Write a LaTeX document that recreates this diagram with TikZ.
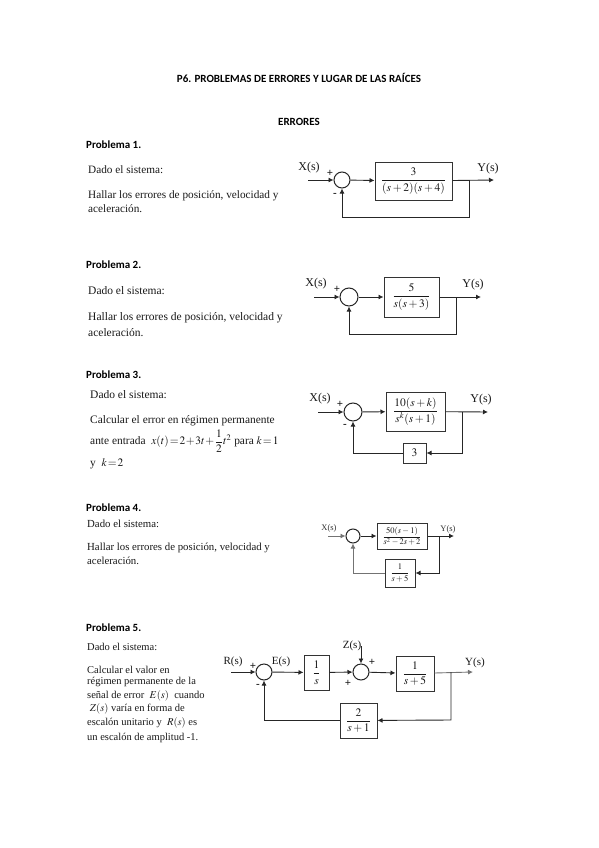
\documentclass[tikz,border=0pt]{standalone}
\usepackage{amsmath}
\usepackage{mathptmx}
\usepackage[no-math]{fontspec}
\setmainfont{Liberation Serif}
\newfontfamily\headfont{Carlito}
\usetikzlibrary{arrows.meta}
\tikzset{
  x=1pt,y=-1pt,
  head/.style={font=\headfont\bfseries\fontsize{11}{12}\selectfont,inner sep=0pt},
  prob/.style={font=\headfont\bfseries\fontsize{11}{12}\selectfont,anchor=west,inner sep=0pt},
  body/.style={font=\fontsize{11.25}{12}\selectfont,anchor=west,inner sep=0pt,text=black!90},
  bodyb/.style={font=\fontsize{11.5}{12}\selectfont,anchor=west,inner sep=0pt,text=black!90},
  bodyc/.style={font=\fontsize{11.4}{12}\selectfont,anchor=west,inner sep=0pt,text=black!90},
  bodyd/.style={font=\fontsize{10.8}{12}\selectfont,anchor=west,inner sep=0pt,text=black!90},
  bodys/.style={font=\fontsize{10.5}{12}\selectfont,anchor=west,inner sep=0pt,text=black!90},
  sig/.style={font=\fontsize{12}{13}\selectfont,inner sep=0pt,text=black!90},
  sigm/.style={font=\fontsize{11}{12}\selectfont,inner sep=0pt,text=black!90},
  sigs/.style={font=\fontsize{8.5}{9}\selectfont,inner sep=0pt,text=black!80},
  sgn/.style={font=\bfseries\fontsize{11}{11}\selectfont,inner sep=0pt,text=black!90},
  sumc/.style={draw=black!85,circle,line width=1pt,inner sep=0pt,minimum size=#1},
  tbox/.style={draw=black!80,line width=1pt,inner sep=0pt,text=black!90,font=\fontsize{11.5}{13}\selectfont},
  tboxs/.style={tbox,font=\fontsize{8.5}{10}\selectfont},
  wire/.style={draw=black!85,line width=0.9pt},
  arr/.style={wire,-{Latex[length=5pt,width=5pt]}},
}
\newcommand{\boxat}[6]{\node[#6,minimum width=#3-#1,minimum height=#4-#2] (#5) at ({(#1+#3)/2},{(#2+#4)/2})}
\begin{document}
\begin{tikzpicture}
\useasboundingbox (0,0) rectangle (599,848);
\fill[white] (0,0) rectangle (599,848);

\node[head] (title) at (299,78) {P6. PROBLEMAS DE ERRORES Y LUGAR DE LAS RAÍCES};
\node[head] (errores) at (299,122) {ERRORES};
\node[prob] (p1) at (86,145) {Problema 1.};
\node[prob] (p2) at (86,265) {Problema 2.};
\node[prob] (p3) at (86,375) {Problema 3.};
\node[prob] (p4) at (86,508) {Problema 4.};
\node[prob] (p5) at (86,628) {Problema 5.};

% Text P1
\node[body] (t1a) at (88,170) {Dado el sistema:};
\node[body] (t1b) at (88,196) {Hallar los errores de posición, velocidad y};
\node[body] (t1c) at (88,209) {aceleración.};
% Text P2
\node[bodyb] (t2a) at (88,291) {Dado el sistema:};
\node[bodyb] (t2b) at (88,318) {Hallar los errores de posición, velocidad y};
\node[bodyb] (t2c) at (88,333) {aceleración.};
% Text P3
\node[bodyb] (t3a) at (90,395) {Dado el sistema:};
\node[bodyc] (t3b) at (90,421) {Calcular el error en régimen permanente};
\node[bodyc] (t3c) at (90,441) {\thickmuskip=1.5mu\medmuskip=1mu ante entrada\ \ $x(t)=2+3t+\dfrac{1}{2}t^{2}$\ para\ $k=1$};
\node[bodyc] (t3d) at (90,464) {\thickmuskip=1.5mu y\ \ $k=2$};
% Text P4
\node[bodyd] (t4a) at (87,524) {Dado el sistema:};
\node[bodyd] (t4b) at (87,548) {Hallar los errores de posición, velocidad y};
\node[bodyd] (t4c) at (87,561) {aceleración.};
% Text P5
\node[bodys] (t5a) at (87,647) {Dado el sistema:};
\node[bodys] (t5b) at (87,670) {Calcular el valor en};
\node[bodys] (t5c) at (87,682) {régimen permanente de la};
\node[bodys] (t5d) at (87,696) {señal de error \ $E(s)$ \ cuando};
\node[bodys] (t5e) at (87,709) {\ $Z(s)$ varía en forma de};
\node[bodys] (t5f) at (87,723) {escalón unitario y \ $R(s)$ es};
\node[bodys] (t5g) at (87,738) {un escalón de amplitud -1.};

% Diagram 1
\node[sig] (x1) at (309,168) {X(s)};
\node[sig] (y1) at (488,169) {Y(s)};
\node[sgn] (s1p) at (330,173) {+};
\node[sgn] (s1m) at (335,195) {-};
\node[sumc=16pt] (c1) at (342,180) {};
\boxat{375}{162}{452}{200}{g1}{tbox}{$\dfrac{3}{(s+2)(s+4)}$};
\coordinate (i1) at (308,180);
\coordinate (o1) at (494,180);
\coordinate (b1) at (469,180);
\coordinate (f1) at (469,217);
\draw[arr] (i1) -- (c1);
\draw[arr] (c1) -- (g1);
\draw[arr] (g1) -- (o1);
\draw[arr] (b1) -- (f1) -| (c1);

% Diagram 2
\node[sig] (x2) at (316,284) {X(s)};
\node[sig] (y2) at (473,285) {Y(s)};
\node[sgn] (s2p) at (337,289) {+};
\node[sumc=18pt] (c2) at (349,297) {};
\boxat{384}{277}{439}{317}{g2}{tbox}{$\dfrac{5}{s(s+3)}$};
\coordinate (i2) at (314,297);
\coordinate (o2) at (481,297);
\coordinate (b2) at (456,297);
\coordinate (f2) at (456,334);
\draw[arr] (i2) -- (c2);
\draw[arr] (c2) -- (g2);
\draw[arr] (g2) -- (o2);
\draw[arr] (b2) -- (f2) -| (c2);

% Diagram 3
\node[sig] (x3) at (320,399) {X(s)};
\node[sig] (y3) at (481,400) {Y(s)};
\node[sgn] (s3p) at (340,404) {+};
\node[sgn] (s3m) at (345,426) {-};
\node[sumc=18pt] (c3) at (353,412) {};
\boxat{386}{392}{445}{431}{g3}{tbox}{$\dfrac{10(s+k)}{s^{k}(s+1)}$};
\boxat{403}{443}{426}{463}{h3}{tbox}{$3$};
\coordinate (i3) at (318,412);
\coordinate (o3) at (488,412);
\coordinate (b3) at (462,412);
\coordinate (f3) at (462,453);
\draw[arr] (i3) -- (c3);
\draw[arr] (c3) -- (g3);
\draw[arr] (g3) -- (o3);
\draw[arr] (b3) -- (f3) -- (h3);
\draw[arr] (h3) -| (c3);

% Diagram 4
\node[sigs] (x4) at (329,528) {X(s)};
\node[sigs] (y4) at (448,529) {Y(s)};
\node[sumc=14pt] (c4) at (353,536) {};
\boxat{377}{523}{427}{549}{g4}{tboxs}{$\dfrac{50(s-1)}{s^{2}-2s+2}$};
\boxat{385}{559}{415}{587}{h4}{tboxs}{$\dfrac{1}{s+5}$};
\coordinate (i4) at (328,536);
\coordinate (o4) at (454,536);
\coordinate (b4) at (439,536);
\coordinate (f4) at (439,573);
\draw[arr,draw=black!55] (i4) -- (c4);
\draw[arr] (c4) -- (g4);
\draw[arr] (g4) -- (o4);
\draw[arr] (b4) -- (f4) -- (h4);
\draw[arr,draw=black!55] (h4) -| (c4);

% Diagram 5
\node[sigm] (r5) at (233,662) {R(s)};
\node[sigm] (e5) at (281,662) {E(s)};
\node[sigm] (z5) at (352,646) {Z(s)};
\node[sigm] (y5) at (475,663) {Y(s)};
\node[sgn] (s5a) at (253,666) {+};
\node[sgn] (s5b) at (258,686) {-};
\node[sgn] (s5c) at (372,662) {+};
\node[sgn] (s5d) at (348,683) {+};
\node[sumc=16pt] (c5) at (264,672) {};
\node[sumc=16pt] (d5) at (361,672) {};
\boxat{304}{655}{329}{690}{g5}{tbox}{$\dfrac{1}{s}$};
\boxat{396}{656}{434}{691}{k5}{tbox}{$\dfrac{1}{s+5}$};
\boxat{340}{703}{377}{738}{h5}{tbox}{$\dfrac{2}{s+1}$};
\coordinate (i5) at (231,672);
\coordinate (o5) at (473,672);
\coordinate (b5) at (451,672);
\coordinate (f5) at (451,720);
\coordinate (q5) at (361,646);
\draw[arr] (i5) -- (c5);
\draw[arr] (c5) -- (g5);
\draw[arr] (g5) -- (d5);
\draw[arr] (d5) -- (k5);
\draw[arr,draw=black!55] (k5) -- (o5);
\draw[arr] (q5) -- (d5);
\draw[arr] (b5) -- (f5) -- (h5);
\draw[arr] (h5) -| (c5);
\end{tikzpicture}
\end{document}
